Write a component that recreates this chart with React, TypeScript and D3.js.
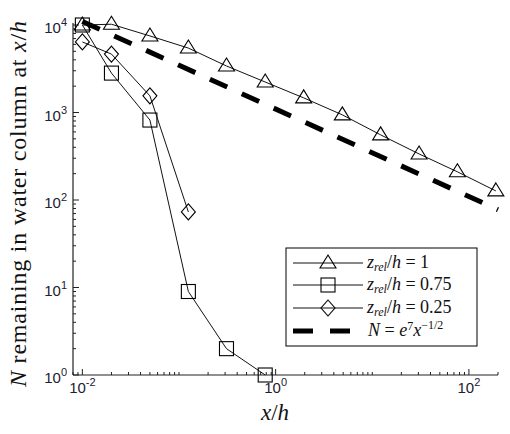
import React, { useEffect, useRef } from 'react'
import { select, scaleLog, line } from 'd3'

// x/h positions of the markers
const xTri = [0.01, 0.02, 0.05, 0.125, 0.31, 0.78, 1.95, 4.9, 12.2, 30.5, 76, 190]
const nTri = [10000, 10200, 7500, 5450, 3400, 2230, 1470, 940, 555, 336, 210, 127]

const xSq = [0.01, 0.02, 0.05, 0.125, 0.31, 0.78]
const nSq = [10000, 2820, 820, 9, 2, 1]

const xDia = [0.01, 0.02, 0.05, 0.125]
const nDia = [6400, 4650, 1550, 73]

// end points of the reference slope line N = e^7 x^-1/2
const xRef = [0.01, 200]
const nRef = [10966, 77.5]

const xMajor = [0.01, 1, 100]
const xMajorExp = ['-2', '0', '2']
const yMajor = [1, 10, 100, 1000, 10000]
const yMajorExp = ['0', '1', '2', '3', '4']

const legendLabels = ['1', '0.75', '0.25']

const W = 510, H = 434
const left = 73, right = 498, top = 25, bottom = 375

function App() {
  const ref = useRef<SVGSVGElement>(null)

  useEffect(() => {
    const svg = select(ref.current)
    svg.selectAll('*').remove()

    const x = scaleLog().domain([0.008, 200]).range([left, right])
    const y = scaleLog().domain([1, 10000]).range([bottom, top])

    const g = svg.append('g')
    const tickColor = '#202030'
    const serif = 'Liberation Serif, Times New Roman, serif'

    // minor ticks
    const minorX: number[] = []
    for (let e = -3; e <= 2; e++) for (let k = 1; k <= 9; k++) {
      const v = k * Math.pow(10, e)
      if (v >= 0.008 && v <= 200.001 && !xMajor.includes(+v.toPrecision(3))) minorX.push(v)
    }
    const minorY: number[] = []
    for (let e = 0; e <= 3; e++) for (let k = 2; k <= 9; k++) minorY.push(k * Math.pow(10, e))

    g.selectAll('.mx').data(minorX).enter().append('line')
      .attr('x1', d => x(d)).attr('x2', d => x(d))
      .attr('y1', bottom).attr('y2', bottom - 3)
      .attr('stroke', '#222').attr('stroke-width', 1)
    g.selectAll('.Mx').data(xMajor).enter().append('line')
      .attr('x1', d => x(d)).attr('x2', d => x(d))
      .attr('y1', bottom).attr('y2', bottom - 6)
      .attr('stroke', '#222').attr('stroke-width', 1)
    g.selectAll('.my').data(minorY).enter().append('line')
      .attr('y1', d => y(d)).attr('y2', d => y(d))
      .attr('x1', left).attr('x2', left + 3)
      .attr('stroke', '#222').attr('stroke-width', 1)
    g.selectAll('.My').data(yMajor).enter().append('line')
      .attr('y1', d => y(d)).attr('y2', d => y(d))
      .attr('x1', left).attr('x2', left + 6)
      .attr('stroke', '#222').attr('stroke-width', 1)

    // axis lines
    g.append('line').attr('x1', left).attr('x2', right).attr('y1', bottom).attr('y2', bottom)
      .attr('stroke', '#222').attr('stroke-width', 1.2)
    g.append('line').attr('x1', left).attr('x2', left).attr('y1', bottom).attr('y2', top - 2)
      .attr('stroke', '#222').attr('stroke-width', 1.2)

    // tick labels
    xMajor.forEach((v, i) => {
      const t = g.append('text')
        .attr('x', x(v)).attr('y', 393)
        .attr('text-anchor', 'middle')
        .attr('font-family', 'Liberation Sans, Arial, sans-serif')
        .attr('font-size', 15).attr('fill', tickColor)
      t.append('tspan').text('10')
      t.append('tspan').attr('dy', -7).attr('font-size', 11).text(xMajorExp[i])
    })
    yMajor.forEach((v, i) => {
      const t = g.append('text')
        .attr('x', 67).attr('y', y(v) + 8)
        .attr('text-anchor', 'end')
        .attr('font-family', 'Liberation Sans, Arial, sans-serif')
        .attr('font-size', 15).attr('fill', tickColor)
      t.append('tspan').text('10')
      t.append('tspan').attr('dy', -7).attr('font-size', 11).text(yMajorExp[i])
    })

    // reference line
    const ln = line<[number, number]>().x(d => x(d[0])).y(d => y(d[1]))
    g.append('path')
      .attr('d', ln(xRef.map((v, i) => [v, nRef[i]] as [number, number])))
      .attr('fill', 'none').attr('stroke', '#000').attr('stroke-width', 5)
      .attr('stroke-dasharray', '19 16')

    const series = [
      { xs: xTri, ys: nTri, m: 'tri' },
      { xs: xSq, ys: nSq, m: 'sq' },
      { xs: xDia, ys: nDia, m: 'dia' },
    ]

    const marker = (sel: any, m: string, cx: number, cy: number) => {
      if (m === 'tri') {
        sel.append('path').attr('d', `M${cx},${cy - 8}L${cx + 8},${cy + 5}L${cx - 8},${cy + 5}Z`)
      } else if (m === 'sq') {
        sel.append('rect').attr('x', cx - 7).attr('y', cy - 7).attr('width', 14).attr('height', 14)
      } else {
        sel.append('path').attr('d', `M${cx},${cy - 8}L${cx + 7},${cy}L${cx},${cy + 8}L${cx - 7},${cy}Z`)
      }
    }

    series.forEach(s => {
      const pts = s.xs.map((v, i) => [v, s.ys[i]] as [number, number])
      g.append('path').attr('d', ln(pts))
        .attr('fill', 'none').attr('stroke', '#111').attr('stroke-width', 1)
      const mg = g.append('g').attr('fill', 'none').attr('stroke', '#000').attr('stroke-width', 1.1)
      pts.forEach(p => marker(mg, s.m, x(p[0]), y(p[1])))
    })

    // legend
    const lg = g.append('g')
    lg.append('rect').attr('x', 286).attr('y', 248).attr('width', 191).attr('height', 98)
      .attr('fill', '#fff').attr('stroke', '#000').attr('stroke-width', 1)
    const rows = [263, 285, 308, 331]
    const mk = ['tri', 'sq', 'dia']
    mk.forEach((m, i) => {
      lg.append('line').attr('x1', 293).attr('x2', 363).attr('y1', rows[i]).attr('y2', rows[i])
        .attr('stroke', '#111').attr('stroke-width', 1)
      const mg = lg.append('g').attr('fill', 'none').attr('stroke', '#000').attr('stroke-width', 1.1)
      marker(mg, m, 328, rows[i])
      const t = lg.append('text').attr('x', 367).attr('y', rows[i] + 5)
        .attr('font-family', serif).attr('font-size', 18).attr('fill', '#111')
      t.append('tspan').attr('font-style', 'italic').text('z')
      t.append('tspan').attr('font-style', 'italic').attr('font-size', 12).attr('dy', 3).text('rel')
      t.append('tspan').attr('dy', -3).text('/')
      t.append('tspan').attr('font-style', 'italic').text('h')
      t.append('tspan').text(' = ' + legendLabels[i])
    })
    lg.append('line').attr('x1', 293).attr('x2', 363).attr('y1', rows[3]).attr('y2', rows[3])
      .attr('stroke', '#000').attr('stroke-width', 5).attr('stroke-dasharray', '20 17')
    const t4 = lg.append('text').attr('x', 368).attr('y', rows[3] + 5)
      .attr('font-family', serif).attr('font-size', 18).attr('fill', '#111')
    t4.append('tspan').attr('font-style', 'italic').text('N')
    t4.append('tspan').text(' = ')
    t4.append('tspan').attr('font-style', 'italic').text('e')
    t4.append('tspan').attr('font-size', 12).attr('dy', -6).text('7')
    t4.append('tspan').attr('font-style', 'italic').attr('dy', 6).text('x')
    t4.append('tspan').attr('font-size', 12).attr('dy', -7).text('−1/2')

    // axis titles
    const xl = g.append('text').attr('x', 275).attr('y', 420).attr('text-anchor', 'middle')
      .attr('font-family', serif).attr('font-size', 23).attr('fill', '#111')
    xl.append('tspan').attr('font-style', 'italic').text('x')
    xl.append('tspan').text('/')
    xl.append('tspan').attr('font-style', 'italic').text('h')

    const yl = g.append('text').attr('transform', 'translate(26,204) rotate(-90)').attr('text-anchor', 'middle')
      .attr('font-family', serif).attr('font-size', 24).attr('fill', '#111')
      .attr('textLength', 366).attr('lengthAdjust', 'spacing')
    yl.append('tspan').attr('font-style', 'italic').text('N')
    yl.append('tspan').text(' remaining in water column at ')
    yl.append('tspan').attr('font-style', 'italic').text('x')
    yl.append('tspan').text('/')
    yl.append('tspan').attr('font-style', 'italic').text('h')
  }, [])

  return (
    <div style={{ position: 'absolute', left: 0, top: 0 }}>
      <svg ref={ref} width={W} height={H} style={{ display: 'block', background: '#fff' }}></svg>
    </div>
  )
}

export default App
